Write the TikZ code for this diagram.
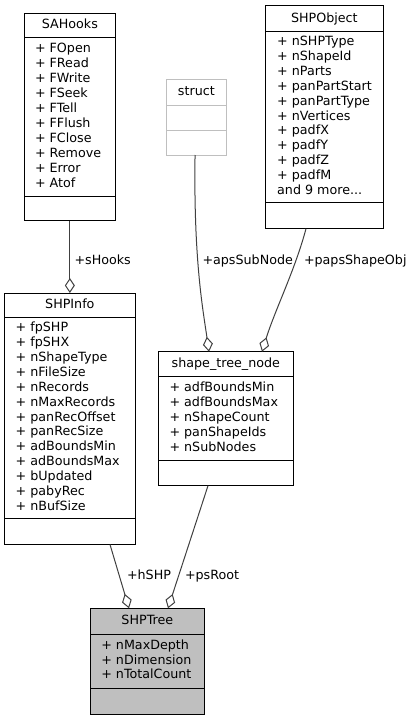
\documentclass[tikz,border=0pt]{standalone}
\usepackage{fontspec}
\setmainfont{DejaVu Sans}
\usetikzlibrary{arrows.meta}
\definecolor{edgegray}{HTML}{404040}
\definecolor{structgray}{HTML}{BFBFBF}
\definecolor{treefill}{HTML}{BFBFBF}
\begin{document}
\begin{tikzpicture}[x=1pt,y=-1pt,
  classbox/.style={draw=black, line width=1pt, fill=white, inner sep=0pt, outer sep=0pt, anchor=north west},
  ghostbox/.style={classbox, draw=structgray},
  divider/.style={draw=black, line width=1pt},
  ghostdivider/.style={draw=structgray, line width=1pt},
  txt/.style={font=\fontsize{12.7}{14.9}\selectfont, inner sep=0pt, outer sep=0pt, anchor=base west},
  ttl/.style={font=\fontsize{12.7}{14.9}\selectfont, inner sep=0pt, outer sep=0pt, anchor=base},
  assoc/.style={draw=edgegray, line width=1pt, -{Diamond[fill=white, length=15pt, width=10pt]}},
  elabel/.style={txt}
]
\useasboundingbox (0,0) rectangle (413,720);

% ---------- SAHooks ----------
\node[classbox, minimum width=91.7pt, minimum height=207.4pt] (sahooks) at (24,13.3) {};
\draw[divider] (sahooks.west |- 0,37.3) -- (sahooks.east |- 0,37.3);
\draw[divider] (sahooks.west |- 0,196.7) -- (sahooks.east |- 0,196.7);
\node[ttl] (sahT) at (69.85,28.8) {SAHooks};
\foreach \t [count=\i from 0] in {FOpen,FRead,FWrite,FSeek,FTell,FFlush,FClose,Remove,Error,Atof}
  \node[txt] (sahA\i) at (35,52.95+\i*14.9) {+ \t};

% ---------- struct ----------
\node[ghostbox, minimum width=59.3pt, minimum height=76pt] (struct) at (166.7,79) {};
\draw[ghostdivider] (struct.west |- 0,105) -- (struct.east |- 0,105);
\draw[ghostdivider] (struct.west |- 0,130) -- (struct.east |- 0,130);
\node[ttl] (structT) at (196.35,95.5) {struct};

% ---------- SHPObject ----------
\node[classbox, minimum width=117.3pt, minimum height=223pt] (shpobj) at (265.7,5.7) {};
\draw[divider] (shpobj.west |- 0,31.3) -- (shpobj.east |- 0,31.3);
\draw[divider] (shpobj.west |- 0,202.7) -- (shpobj.east |- 0,202.7);
\node[ttl] (shpobjT) at (324.35,22) {SHPObject};
\foreach \t [count=\i from 0] in {nSHPType,nShapeId,nParts,panPartStart,panPartType,nVertices,padfX,padfY,padfZ,padfM}
  \node[txt] (shpobjA\i) at (277.2,45.5+\i*14.9) {+ \t};
\node[txt] (shpobjMore) at (277.2,194.5) {and 9 more...};

% ---------- SHPInfo ----------
\node[classbox, minimum width=130.3pt, minimum height=251.5pt] (shpinfo) at (4.7,293) {};
\draw[divider] (shpinfo.west |- 0,317.3) -- (shpinfo.east |- 0,317.3);
\draw[divider] (shpinfo.west |- 0,518.8) -- (shpinfo.east |- 0,518.8);
\node[ttl] (shpinfoT) at (69.85,308.65) {SHPInfo};
\foreach \t [count=\i from 0] in {fpSHP,fpSHX,nShapeType,nFileSize,nRecords,nMaxRecords,panRecOffset,panRecSize,adBoundsMin,adBoundsMax,bUpdated,pabyRec,nBufSize}
  \node[txt] (shpinfoA\i) at (15.7,331.6+\i*14.9) {+ \t};

% ---------- shape_tree_node ----------
\node[classbox, minimum width=135.7pt, minimum height=134pt] (stn) at (158,351.7) {};
\draw[divider] (stn.west |- 0,376) -- (stn.east |- 0,376);
\draw[divider] (stn.west |- 0,460.7) -- (stn.east |- 0,460.7);
\node[ttl] (stnT) at (225.85,367.35) {shape\_tree\_node};
\foreach \t [count=\i from 0] in {adfBoundsMin,adfBoundsMax,nShapeCount,panShapeIds,nSubNodes}
  \node[txt] (stnA\i) at (169.5,391.55+\i*14.9) {+ \t};

% ---------- SHPTree ----------
\node[classbox, fill=treefill, minimum width=114.7pt, minimum height=105.7pt] (shptree) at (90,608.3) {};
\draw[divider] (shptree.west |- 0,634) -- (shptree.east |- 0,634);
\draw[divider] (shptree.west |- 0,688) -- (shptree.east |- 0,688);
\node[ttl] (shptreeT) at (147.35,624.65) {SHPTree};
\foreach \t [count=\i from 0] in {nMaxDepth,nDimension,nTotalCount}
  \node[txt] (shptreeA\i) at (101.3,649.1+\i*14.9) {+ \t};

% ---------- connectors ----------
\draw[assoc] (sahooks.south) -- (sahooks.south |- shpinfo.north);
\draw[assoc] ([xshift=-1.3pt]struct.south) .. controls (193.5,260) and (203,310) .. ([xshift=51pt]stn.north west);
\draw[assoc] ([xshift=40.3pt]shpobj.south west) .. controls (295,270) and (275,310) .. ([xshift=104pt]stn.north west);
\draw[assoc] ([xshift=105.3pt]shpinfo.south west) -- ([xshift=39pt]shptree.north west);
\draw[assoc] ([xshift=50pt]stn.south west) -- ([xshift=78pt]shptree.north west);

% ---------- connector labels ----------
\node[elabel] (lsHooks) at (74.5,264) {+sHooks};
\node[elabel] (lapsSubNode) at (202.5,264) {+apsSubNode};
\node[elabel] (lpapsShapeObj) at (304,264) {+papsShapeObj};
\node[elabel] (lhSHP) at (127,579.5) {+hSHP};
\node[elabel] (lpsRoot) at (185,579.5) {+psRoot};
\end{tikzpicture}
\end{document}
